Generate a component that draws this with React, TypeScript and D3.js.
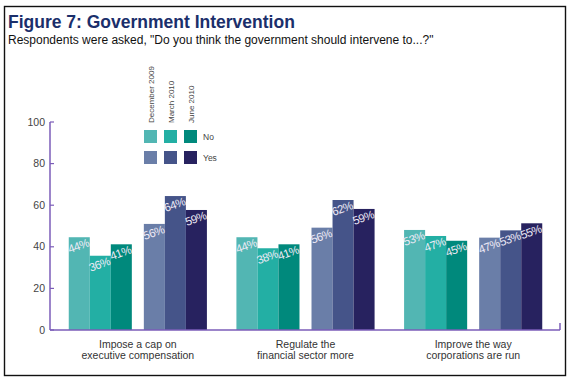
import React from "react";
import * as d3 from "d3";

const categories = [
  ["Impose a cap on", "executive compensation"],
  ["Regulate the", "financial sector more"],
  ["Improve the way", "corporations are run"],
];
const periods = ["December 2009", "March 2010", "June 2010"];
const answers = ["No", "Yes"];
// bar heights as drawn
const noValues = [
  [44.6, 35.7, 41.2],
  [44.6, 39.3, 41.2],
  [48.1, 45.2, 42.9],
];
const yesValues = [
  [51.0, 64.4, 57.7],
  [49.2, 62.5, 58.2],
  [44.4, 47.9, 51.3],
];
// labels as printed
const noLabels = [
  ["44%", "36%", "41%"],
  ["44%", "38%", "41%"],
  ["53%", "47%", "45%"],
];
const yesLabels = [
  ["56%", "64%", "59%"],
  ["56%", "62%", "59%"],
  ["47%", "53%", "55%"],
];
const yTicks = [0, 20, 40, 60, 80, 100];

const noColors = ["#52b6b3", "#23afa4", "#00897c"];
const yesColors = ["#6a7ea8", "#455489", "#27225f"];
const axisColor = "#7b5cb8";

export default function App() {
  const W = 570, H = 380;
  const y = d3.scaleLinear().domain([0, 100]).range([330, 122]);
  const x0 = d3
    .scaleBand<number>()
    .domain(d3.range(categories.length))
    .range([54, 557])
    .paddingInner(0.176)
    .paddingOuter(0.088);
  const x1 = d3
    .scaleBand<string>()
    .domain(answers)
    .range([0, x0.bandwidth()])
    .paddingInner(0.16);
  const x2 = d3
    .scaleBand<number>()
    .domain(d3.range(periods.length))
    .range([0, x1.bandwidth()]);

  const series = [
    { key: "No", values: noValues, labels: noLabels, colors: noColors },
    { key: "Yes", values: yesValues, labels: yesLabels, colors: yesColors },
  ];

  const font = "'Liberation Sans', Arial, sans-serif";

  return (
    <svg
      width={W}
      height={H}
      style={{ position: "absolute", left: 0, top: 0, background: "#fff" }}
      fontFamily={font}
    >
      <rect x={0} y={0} width={W} height={H} fill="#fff" />
      <rect x={4.5} y={6.5} width={561} height={369} fill="none" stroke="#111" strokeWidth={1.4} />
      <text x={8} y={28} fontSize={17.5} fontWeight="bold" fill="#1b2f6b">
        Figure 7: Government Intervention
      </text>
      <text x={8} y={44} fontSize={12} fill="#111">
        Respondents were asked, "Do you think the government should intervene to...?"
      </text>

      {/* bars */}
      {categories.map((_, ci) => (
        <g key={ci} transform={`translate(${x0(ci)},0)`}>
          {series.map((s) => (
            <g key={s.key} transform={`translate(${x1(s.key)},0)`}>
              {periods.map((_, pi) => {
                const v = s.values[ci][pi];
                const bx = x2(pi)!;
                const by = y(v);
                return (
                  <rect
                    key={pi}
                    x={bx}
                    y={by}
                    width={x2.bandwidth()}
                    height={y(0) - by}
                    fill={s.colors[pi]}
                  />
                );
              })}
            </g>
          ))}
        </g>
      ))}
      {/* bar labels */}
      {categories.map((_, ci) => (
        <g key={"l" + ci} transform={`translate(${x0(ci)},0)`}>
          {series.map((s) => (
            <g key={s.key} transform={`translate(${x1(s.key)},0)`}>
              {periods.map((_, pi) => {
                const v = s.values[ci][pi];
                const bx = x2(pi)! + 1;
                const by = y(v) + 16;
                return (
                  <text
                    key={pi}
                    transform={`translate(${bx},${by}) rotate(-20)`}
                    fontSize={11.5}
                    fill="#eeeaf6"
                    letterSpacing={-0.5}
                  >
                    {s.labels[ci][pi]}
                  </text>
                );
              })}
            </g>
          ))}
        </g>
      ))}

      {/* axes */}
      <line x1={50} x2={50} y1={y(100)} y2={y(0)} stroke={axisColor} strokeWidth={1.5} />
      <line x1={50} x2={560} y1={y(0)} y2={y(0)} stroke={axisColor} strokeWidth={1.5} />
      <line x1={560} x2={560} y1={y(0)} y2={y(0) - 7} stroke={axisColor} strokeWidth={1.5} />
      {yTicks.map((t) => (
        <g key={t}>
          <line x1={50} x2={54} y1={y(t)} y2={y(t)} stroke={axisColor} strokeWidth={1.2} />
          <text x={45} y={y(t) + 3.5} fontSize={10.5} textAnchor="end" fill="#444">
            {t}
          </text>
        </g>
      ))}

      {/* category labels */}
      {categories.map((lines, ci) => (
        <text
          key={"c" + ci}
          x={x0(ci)! + x0.bandwidth() / 2}
          y={348}
          fontSize={10.5}
          textAnchor="middle"
          fill="#333"
        >
          {lines.map((ln, li) => (
            <tspan key={li} x={x0(ci)! + x0.bandwidth() / 2} dy={li === 0 ? 0 : 11}>
              {ln}
            </tspan>
          ))}
        </text>
      ))}

      {/* legend */}
      {periods.map((p, pi) => (
        <text
          key={p}
          transform={`translate(${150.5 + pi * 20 + 3},123) rotate(-90)`}
          fontSize={8}
          fill="#444"
        >
          {p}
        </text>
      ))}
      {series.map((s, si) => (
        <g key={"lg" + s.key}>
          {periods.map((p, pi) => (
            <rect
              key={p}
              x={144 + pi * 20}
              y={130 + si * 21}
              width={13}
              height={13}
              fill={s.colors[pi]}
            />
          ))}
          <text x={203} y={140 + si * 21} fontSize={8.5} fill="#444">
            {s.key}
          </text>
        </g>
      ))}
    </svg>
  );
}
